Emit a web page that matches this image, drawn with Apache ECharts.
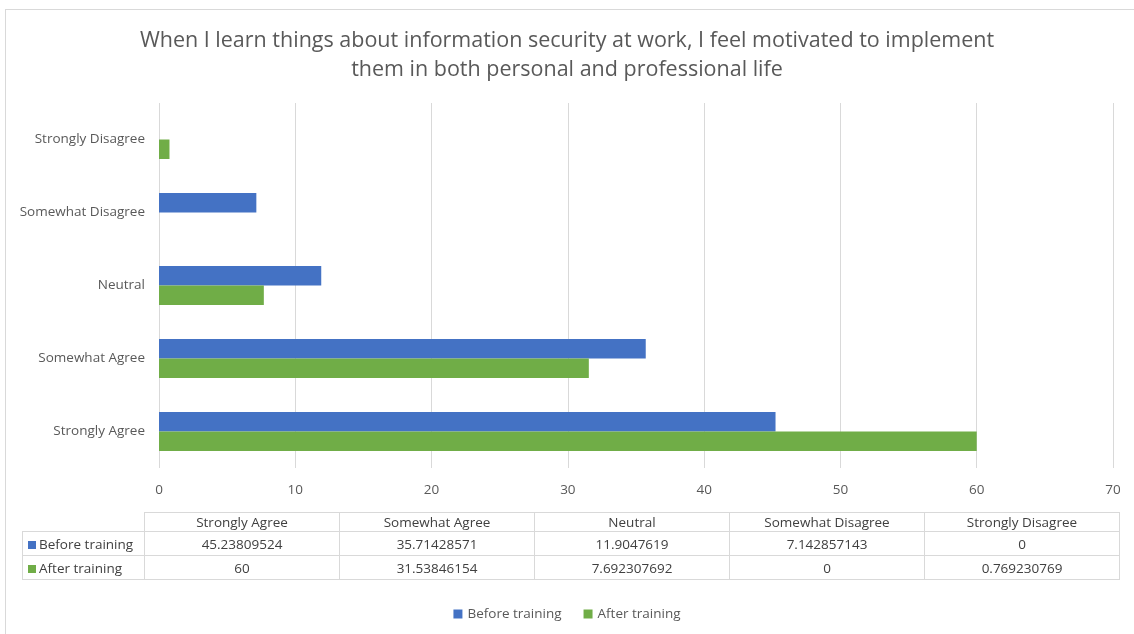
<!DOCTYPE html>
<html><head><meta charset="utf-8">
<script src="https://cdn.jsdelivr.net/npm/echarts@6/dist/echarts.min.js"></script>
<style>
html,body{margin:0;padding:0;background:#fff;overflow:hidden;}
#frame{position:absolute;left:5px;top:9px;width:1140px;height:640px;border:1px solid #d9d9d9;box-sizing:border-box;}
#chart{position:absolute;left:0;top:0;width:1134px;height:634px;}
#tbl{position:absolute;left:22px;top:512px;border-collapse:collapse;font-family:"Open Sans",sans-serif;font-size:13.5px;color:#404040;table-layout:fixed;}
#tbl td{border:1px solid #d9d9d9;height:23px;padding:0;text-align:center;width:194px;line-height:16px;}
#tbl tr.hdr td{height:18px;}
#tbl td.rh{width:116px;text-align:left;padding-left:5px;white-space:nowrap;}
#tbl td.blank{border:none;}
.key{display:inline-block;width:8px;height:8px;margin-right:3px;vertical-align:0px;}
</style></head>
<body>
<div id="frame"></div>
<div id="chart"></div>
<table id="tbl"></table>
<script>
const categories = ["Strongly Agree","Somewhat Agree","Neutral","Somewhat Disagree","Strongly Disagree"];
const beforeTraining = [45.23809524, 35.71428571, 11.9047619, 7.142857143, 0];
const afterTraining = [60, 31.53846154, 7.692307692, 0, 0.769230769];
const seriesNames = ["Before training","After training"];
const colors = ["#4472C4","#70AD47"];
const xTicks = {min:0, max:70, interval:10};

const chart = echarts.init(document.getElementById('chart'));
const font = '"Open Sans", sans-serif';
chart.setOption({
  animation:false,
  title:{
    text:"When I learn things about information security at work, I feel motivated to implement\nthem in both personal and professional life",
    left:'center', top:21,
    textStyle:{fontFamily:font,fontSize:21.5,fontWeight:'normal',color:'#595959',lineHeight:29}
  },
  legend:{
    data:seriesNames, bottom:8, left:'center',
    itemWidth:9, itemHeight:9, itemGap:22, icon:'rect',
    textStyle:{fontFamily:font,fontSize:13.5,color:'#595959'}
  },
  grid:{left:159,right:21,top:103,bottom:166,containLabel:false},
  xAxis:{
    type:'value', min:xTicks.min, max:xTicks.max, interval:xTicks.interval,
    axisLine:{show:false}, axisTick:{show:false},
    splitLine:{lineStyle:{color:'#d9d9d9'}},
    axisLabel:{fontFamily:font,fontSize:13.5,color:'#595959',margin:15}
  },
  yAxis:{
    type:'category', data:categories,
    axisLine:{show:false}, axisTick:{show:false},
    axisLabel:{fontFamily:font,fontSize:13.5,color:'#595959',margin:14}
  },
  series:[
    {name:seriesNames[0],type:'bar',data:beforeTraining,barWidth:19.5,barGap:'0%',itemStyle:{color:colors[0]}},
    {name:seriesNames[1],type:'bar',data:afterTraining,barWidth:19.5,barGap:'0%',itemStyle:{color:colors[1]}}
  ]
});

// data table
const tbl = document.getElementById('tbl');
let html = '<tr class="hdr"><td class="blank rh"></td>' + categories.map(c=>'<td>'+c+'</td>').join('') + '</tr>';
[beforeTraining, afterTraining].forEach((arr,i)=>{
  html += '<tr><td class="rh"><span class="key" style="background:'+colors[i]+'"></span>'+seriesNames[i]+'</td>' +
    arr.map(v=>'<td>'+String(v)+'</td>').join('') + '</tr>';
});
tbl.innerHTML = html;
</script>
</body></html>
